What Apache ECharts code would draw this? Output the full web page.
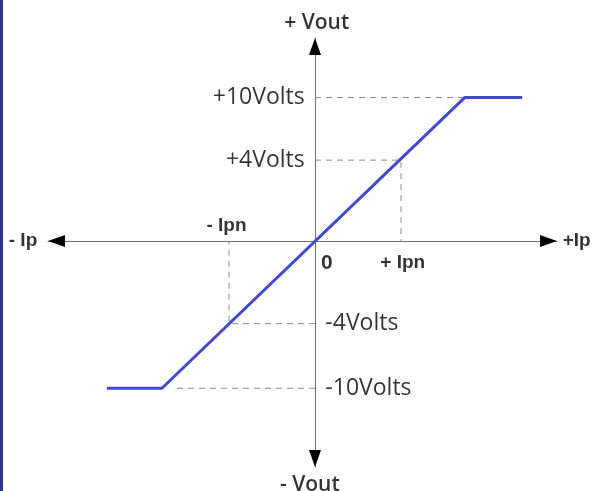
<!DOCTYPE html>
<html>
<head>
<meta charset="utf-8">
<script src="https://cdn.jsdelivr.net/npm/echarts@6/dist/echarts.min.js"></script>
<style>
  html, body { margin: 0; padding: 0; background: #fff; }
  #chart { width: 597px; height: 491px; }
</style>
</head>
<body>
<div id="chart"></div>
<script>
// x in units of Ipn, y in diagram units (schematic, not to scale)
const xRange = [-3.105, 2.814];
const yRange = [-11.2, 10.05];
const transferCurve = [[-2.42, -7.3], [-1.78, -7.3], [1.74, 7.1], [2.41, 7.1]];

// dashed guide lines
const guidePos10 = [[0, 7.1], [1.74, 7.1]];
const guidePos4 = [[0, 4], [1, 4], [1, 0]];
const guideNeg4 = [[0, -4.1], [-1, -4.1], [-1, 0]];
const guideNeg10 = [[0, -7.3], [-1.63, -7.3]];

// text labels: [x, y, text]
const voltLabelsLeft = [[-0.12, 7.1, '+10Volts'], [-0.12, 4, '+4Volts']];
const voltLabelsRight = [[0.12, -4.1, '-4Volts'], [0.12, -7.3, '-10Volts']];
const currentLabels = [[-1.03, 0.74, '- Ipn'], [1.02, -1.09, '+ Ipn']];
const zeroLabel = [[0.07, -1.09, '0']];
const leftEndLabel = [[-3.23, 0, '- Ip']];
const rightEndLabel = [[2.88, 0, '+Ip']];
const voutLabels = [[0.02, 10.8, '+ Vout'], [-0.06, -12.1, '- Vout']];

const chart = echarts.init(document.getElementById('chart'));

const dashed = {
  color: '#8a8a8a',
  width: 1,
  type: [6, 5]
};

function guide(data) {
  return {
    type: 'line',
    data: data,
    symbol: 'none',
    silent: true,
    lineStyle: dashed,
    z: 1
  };
}

function textSeries(data, label) {
  return {
    type: 'scatter',
    data: data,
    symbolSize: 0,
    clip: false,
    silent: true,
    label: Object.assign({
      show: true,
      formatter: p => p.data[2],
      color: '#000'
    }, label)
  };
}

// arrow heads at the axis ends, tip on the end of the axis
const arrowLen = 17;
const pxPerX = 509 / (xRange[1] - xRange[0]);
const pxPerY = 429 / (yRange[1] - yRange[0]);
const arrowHeads = [
  { value: [xRange[0] + arrowLen / 2 / pxPerX, 0], symbolRotate: 90 },
  { value: [xRange[1] - arrowLen / 2 / pxPerX, 0], symbolRotate: -90 },
  { value: [0, yRange[1] - arrowLen / 2 / pxPerY], symbolRotate: 0 },
  { value: [0, yRange[0] + arrowLen / 2 / pxPerY], symbolRotate: 180 }
];

const plainAxis = {
  type: 'value',
  splitLine: { show: false },
  axisTick: { show: false },
  axisLabel: { show: false },
  axisLine: {
    onZero: true,
    lineStyle: { color: '#707070', width: 1 }
  }
};

chart.setOption({
  animation: false,
  backgroundColor: '#fff',
  grid: { left: 48, right: 40, top: 38, bottom: 24 },
  xAxis: Object.assign({ min: xRange[0], max: xRange[1] }, plainAxis),
  yAxis: Object.assign({ min: yRange[0], max: yRange[1] }, plainAxis),
  graphic: [{
    type: 'rect',
    shape: { x: 0, y: 0, width: 3, height: 491 },
    style: { fill: '#2e3592' }
  }],
  series: [
    guide(guidePos10),
    guide(guidePos4),
    guide(guideNeg4),
    guide(guideNeg10),
    {
      type: 'line',
      data: transferCurve,
      symbol: 'none',
      silent: true,
      lineStyle: { color: '#3f4bcc', width: 3 },
      z: 3
    },
    {
      type: 'scatter',
      data: arrowHeads,
      symbol: 'triangle',
      symbolSize: [12, arrowLen],
      clip: false,
      silent: true,
      itemStyle: { color: '#000', opacity: 1 },
      z: 4
    },
    textSeries(voltLabelsLeft, {
      position: 'left', distance: 0,
      fontFamily: 'Open Sans', fontSize: 23
    }),
    textSeries(voltLabelsRight, {
      position: 'right', distance: 0,
      fontFamily: 'Open Sans', fontSize: 23
    }),
    textSeries(currentLabels, {
      position: 'inside',
      fontFamily: 'Liberation Sans', fontSize: 19, fontWeight: 'bold'
    }),
    textSeries(zeroLabel, {
      position: 'right', distance: 0,
      fontFamily: 'Liberation Sans', fontSize: 21, fontWeight: 'bold'
    }),
    textSeries(leftEndLabel, {
      position: 'left', distance: 0,
      fontFamily: 'Liberation Sans', fontSize: 19, fontWeight: 'bold'
    }),
    textSeries(rightEndLabel, {
      position: 'right', distance: 0,
      fontFamily: 'Liberation Sans', fontSize: 19, fontWeight: 'bold'
    }),
    textSeries(voutLabels, {
      position: 'inside',
      fontFamily: 'Open Sans', fontSize: 21, fontWeight: 600
    })
  ]
});
</script>
</body>
</html>
